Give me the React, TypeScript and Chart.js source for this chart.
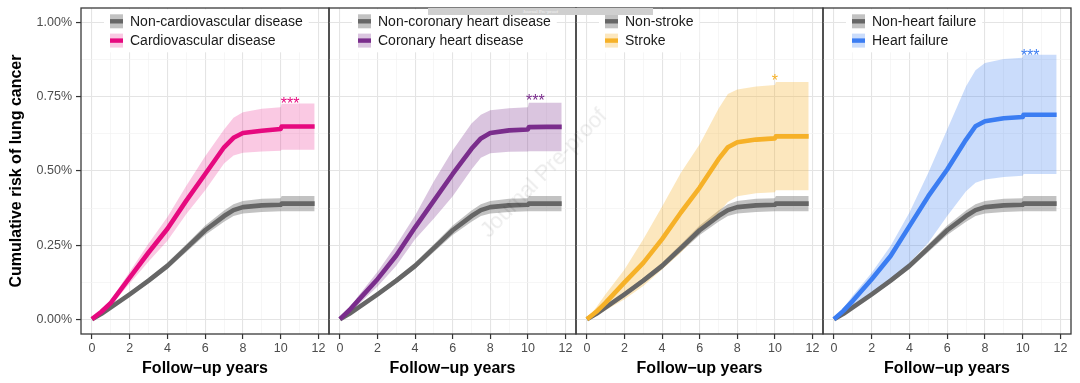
import React, { useEffect, useRef } from 'react';
import { Chart, registerables } from 'chart.js';

Chart.register(...registerables);

const FONT = '"Liberation Sans", Arial, Helvetica, sans-serif';
Chart.defaults.font.family = FONT;

// ---------- data ----------
const years = [0, 0.5, 1, 2, 3, 4, 5, 6, 7, 7.5, 8, 9, 10, 10.05, 11, 11.8];

const referenceLabels = ['Non-cardiovascular disease', 'Non-coronary heart disease', 'Non-stroke', 'Non-heart failure'];
const diseaseLabels = ['Cardiovascular disease', 'Coronary heart disease', 'Stroke', 'Heart failure'];

const refRisk = [0, 0.018, 0.04, 0.084, 0.13, 0.18, 0.24, 0.30, 0.348, 0.368, 0.378, 0.384, 0.386, 0.39, 0.39, 0.39];
const refLower = [0, 0.015, 0.035, 0.077, 0.121, 0.169, 0.227, 0.284, 0.329, 0.348, 0.357, 0.362, 0.364, 0.364, 0.364, 0.364];
const refUpper = [0, 0.021, 0.045, 0.091, 0.139, 0.191, 0.253, 0.316, 0.367, 0.388, 0.399, 0.406, 0.408, 0.416, 0.416, 0.416];

const cvdRisk = [0, 0.025, 0.055, 0.14, 0.225, 0.305, 0.40, 0.49, 0.58, 0.612, 0.628, 0.636, 0.642, 0.65, 0.65, 0.65];
const cvdUpper = [0, 0.03, 0.065, 0.16, 0.255, 0.345, 0.45, 0.55, 0.64, 0.68, 0.698, 0.71, 0.715, 0.727, 0.728, 0.728];
const cvdLower = [0, 0.02, 0.045, 0.12, 0.195, 0.265, 0.355, 0.435, 0.525, 0.552, 0.562, 0.566, 0.568, 0.572, 0.572, 0.572];

const chdRisk = [0, 0.03, 0.065, 0.135, 0.215, 0.31, 0.40, 0.49, 0.575, 0.61, 0.628, 0.637, 0.64, 0.648, 0.649, 0.649];
const chdUpper = [0, 0.035, 0.08, 0.16, 0.25, 0.35, 0.465, 0.57, 0.66, 0.69, 0.705, 0.712, 0.715, 0.73, 0.73, 0.73];
const chdLower = [0, 0.02, 0.05, 0.11, 0.18, 0.27, 0.34, 0.415, 0.505, 0.545, 0.56, 0.565, 0.566, 0.567, 0.567, 0.567];

const strokeRisk = [0, 0.025, 0.056, 0.124, 0.19, 0.27, 0.36, 0.444, 0.54, 0.58, 0.597, 0.606, 0.61, 0.617, 0.617, 0.617];
const strokeUpper = [0, 0.04, 0.085, 0.168, 0.27, 0.38, 0.494, 0.59, 0.71, 0.76, 0.775, 0.785, 0.79, 0.80, 0.80, 0.80];
const strokeLower = [0, 0.012, 0.03, 0.067, 0.112, 0.168, 0.225, 0.292, 0.36, 0.395, 0.415, 0.425, 0.428, 0.435, 0.435, 0.435];

const hfRisk = [0, 0.028, 0.062, 0.135, 0.213, 0.314, 0.415, 0.505, 0.606, 0.651, 0.668, 0.678, 0.682, 0.69, 0.69, 0.69];
const hfUpper = [0, 0.038, 0.08, 0.157, 0.247, 0.36, 0.494, 0.64, 0.786, 0.84, 0.864, 0.878, 0.882, 0.892, 0.892, 0.892];
const hfLower = [0, 0.015, 0.035, 0.078, 0.124, 0.19, 0.258, 0.348, 0.432, 0.46, 0.471, 0.48, 0.484, 0.49, 0.49, 0.49];

const sigLabels = ['***', '***', '*', '***'];
const sigYears = [10.5, 10.4, 10.0, 10.4];
const sigRisk = [0.741, 0.749, 0.818, 0.903];

const xTickValues = [0, 1, 2, 3, 4, 5, 6, 7, 8, 9, 10, 11, 12];
const yTickValues = [0, 0.125, 0.25, 0.375, 0.5, 0.625, 0.75, 0.875, 1.0];

// ---------- styles / layout ----------
const lineColors = ['#E6097F', '#7A2D8C', '#F6B128', '#3B7DF2'];
const bandColors = ['rgba(230,9,127,0.22)', 'rgba(122,45,140,0.28)', 'rgba(246,177,40,0.30)', 'rgba(59,125,242,0.27)'];
const grayLine = '#666666';
const grayBand = 'rgba(128,128,128,0.48)';

const W = 1080;
const H = 383;
const panelLeft = [81, 329, 576, 823];
const panelRight = [329, 576, 823, 1071];

const panelSeries = [
  { risk: cvdRisk, lower: cvdLower, upper: cvdUpper },
  { risk: chdRisk, lower: chdLower, upper: chdUpper },
  { risk: strokeRisk, lower: strokeLower, upper: strokeUpper },
  { risk: hfRisk, lower: hfLower, upper: hfUpper },
];

const pts = (arr: number[]) => years.map((x, i) => ({ x, y: arr[i] }));

const isMajorX = (v: number) => Math.round(v) % 2 === 0;
const isMajorY = (v: number) => Math.abs(v * 4 - Math.round(v * 4)) < 1e-6;

const decorPlugin = {
  id: 'panelDecor',
  afterDatasetsDraw(chart: any, _args: any, opts: any) {
    const { ctx, chartArea: a, scales } = chart;
    ctx.save();
    // significance stars
    ctx.fillStyle = opts.color;
    ctx.font = `16px ${FONT}`;
    ctx.textAlign = 'center';
    ctx.textBaseline = 'alphabetic';
    const sx = scales.x.getPixelForValue(opts.sigX);
    const sy = scales.y.getPixelForValue(opts.sigY);
    ctx.fillText(opts.sigText, sx, sy + 9);

    // legend
    ctx.font = `14px ${FONT}`;
    const kx = a.left + 29;
    const ky0 = a.top + 6.3;
    const widths = opts.legend.map((it: any) => ctx.measureText(it.label).width);
    const maxW = Math.max(...widths);
    ctx.fillStyle = '#ffffff';
    ctx.fillRect(kx - 6, ky0 - 5, 20 + maxW + 12, 19 + 14 + 10);
    opts.legend.forEach((it: any, i: number) => {
      const ky = ky0 + i * 19.3;
      ctx.fillStyle = it.band;
      ctx.fillRect(kx, ky, 13, 14);
      ctx.fillStyle = it.line;
      ctx.fillRect(kx, ky + 4.8, 13, 4.4);
      ctx.fillStyle = '#1a1a1a';
      ctx.textAlign = 'left';
      ctx.textBaseline = 'middle';
      ctx.fillText(it.label, kx + 20, ky + 8);
    });

    // panel border
    ctx.strokeStyle = '#3a3a3a';
    ctx.lineWidth = 1.3;
    ctx.strokeRect(a.left, a.top, a.right - a.left, a.bottom - a.top);
    ctx.restore();
  },
};

function Panel({ index }: { index: number }) {
  const ref = useRef<HTMLCanvasElement | null>(null);
  useEffect(() => {
    if (!ref.current) return;
    const s = panelSeries[index];
    const first = index === 0;
    const chart = new Chart(ref.current, {
      type: 'line',
      data: {
        datasets: [
          { data: pts(refLower), borderWidth: 0, pointRadius: 0, fill: false, order: 4, borderColor: 'transparent' },
          { data: pts(refUpper), borderWidth: 0, pointRadius: 0, fill: '-1', backgroundColor: grayBand, order: 4, borderColor: 'transparent' },
          { data: pts(s.lower), borderWidth: 0, pointRadius: 0, fill: false, order: 3, borderColor: 'transparent' },
          { data: pts(s.upper), borderWidth: 0, pointRadius: 0, fill: '-1', backgroundColor: bandColors[index], order: 3, borderColor: 'transparent' },
          { data: pts(refRisk), borderWidth: 4.6, pointRadius: 0, fill: false, order: 2, borderColor: grayLine, tension: 0, borderJoinStyle: 'round' },
          { data: pts(s.risk), borderWidth: 4.6, pointRadius: 0, fill: false, order: 1, borderColor: lineColors[index], tension: 0, borderJoinStyle: 'round' },
        ] as any,
      },
      options: {
        animation: false,
        responsive: false,
        maintainAspectRatio: false,
        events: [],
        layout: {
          padding: { left: first ? 0 : panelLeft[index], right: W - panelRight[index], top: 8, bottom: 0 },
        },
        plugins: {
          legend: { display: false },
          tooltip: { enabled: false },
          panelDecor: {
            color: lineColors[index],
            sigText: sigLabels[index],
            sigX: sigYears[index],
            sigY: sigRisk[index],
            legend: [
              { label: referenceLabels[index], band: grayBand, line: grayLine },
              { label: diseaseLabels[index], band: bandColors[index], line: lineColors[index] },
            ],
          },
        } as any,
        scales: {
          x: {
            type: 'linear',
            min: -0.58,
            max: 12.56,
            afterBuildTicks: (sc: any) => { sc.ticks = xTickValues.map((v) => ({ value: v })); },
            afterFit: (sc: any) => {
              sc.height = 49;
              sc.paddingLeft = 0;
              sc.paddingRight = 0;
            },
            ticks: {
              autoSkip: false,
              maxRotation: 0,
              padding: 2,
              color: '#4D4D4D',
              font: { size: 12.5 },
              callback: (v: any) => (isMajorX(Number(v)) ? String(v) : ''),
            },
            grid: {
              color: (c: any) => (c.tick && isMajorX(c.tick.value) ? '#E4E4E4' : '#F2F2F2'),
              lineWidth: (c: any) => (c.tick && isMajorX(c.tick.value) ? 1.1 : 0.7),
              tickLength: 5,
              tickWidth: 1.2,
              tickColor: (c: any) => (c.tick && isMajorX(c.tick.value) ? '#333333' : 'rgba(0,0,0,0)'),
            },
            border: { display: false },
            title: {
              display: true,
              text: 'Follow\u2212up years',
              color: '#000000',
              font: { size: 16, weight: 'bold' },
              padding: { top: 0, bottom: 5 },
            },
          },
          y: {
            type: 'linear',
            min: -0.05,
            max: 1.05,
            afterBuildTicks: (sc: any) => { sc.ticks = yTickValues.map((v) => ({ value: v })); },
            afterFit: (sc: any) => {
              sc.width = first ? 81 : 0;
              sc.paddingTop = 0;
              sc.paddingBottom = 0;
            },
            ticks: {
              display: first,
              autoSkip: false,
              padding: 4,
              color: '#4D4D4D',
              font: { size: 12.5 },
              callback: (v: any) => (isMajorY(Number(v)) ? Number(v).toFixed(2) + '%' : ''),
            },
            grid: {
              drawTicks: first,
              color: (c: any) => (c.tick && isMajorY(c.tick.value) ? '#E4E4E4' : '#F2F2F2'),
              lineWidth: (c: any) => (c.tick && isMajorY(c.tick.value) ? 1.1 : 0.7),
              tickLength: 5,
              tickWidth: 1.2,
              tickColor: (c: any) => (c.tick && isMajorY(c.tick.value) ? '#333333' : 'rgba(0,0,0,0)'),
            },
            border: { display: false },
            title: {
              display: first,
              text: 'Cumulative risk of lung cancer',
              color: '#000000',
              font: { size: 16, weight: 'bold' },
              padding: { top: 7, bottom: 0 },
            },
          },
        },
      } as any,
      plugins: [decorPlugin],
    });
    return () => chart.destroy();
  }, [index]);
  return (
    <canvas
      ref={ref}
      width={W}
      height={H}
      style={{ position: 'absolute', left: 0, top: 0, width: W, height: H }}
    />
  );
}

export default function App() {
  return (
    <div style={{ position: 'fixed', left: 0, top: 0, width: W, height: H, background: '#ffffff', overflow: 'hidden' }}>
      {[0, 1, 2, 3].map((i) => (
        <Panel key={i} index={i} />
      ))}
      <div
        style={{
          position: 'absolute', left: 428, top: 8, width: 225, height: 7, background: '#CFCFCF',
          color: '#f4f4f4', fontSize: 5, lineHeight: '7px', textAlign: 'center', fontFamily: 'serif',
        }}
      >
        Journal Pre-proof
      </div>
      <div
        style={{
          position: 'absolute', left: 457, top: 160, width: 172, height: 25, lineHeight: '25px',
          fontFamily: FONT, fontSize: 22, color: 'rgba(0,0,0,0.08)', whiteSpace: 'nowrap', textAlign: 'center',
          transform: 'rotate(-45.7deg)', transformOrigin: 'center', pointerEvents: 'none',
        }}
      >
        Journal Pre-proof
      </div>
    </div>
  );
}
